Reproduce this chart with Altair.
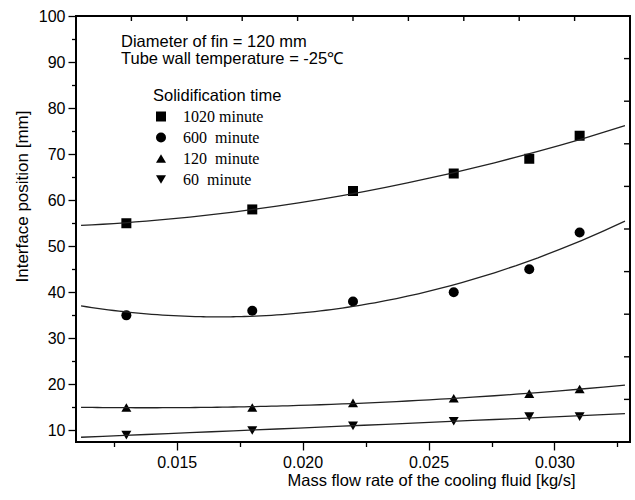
import altair as alt
import pandas as pd

NB = "\u00a0"
# Data
flow = [0.013, 0.018, 0.022, 0.026, 0.029, 0.031]
series_names = ["1020" + NB + "minute", "600" + NB * 2 + "minute",
                "120" + NB * 2 + "minute", NB + "60" + NB * 2 + "minute"]
t1020 = [55.0, 58.0, 62.0, 65.8, 69.0, 74.0]
t600 = [35.0, 36.0, 38.0, 40.0, 45.0, 53.0]
t120 = [15.0, 15.0, 16.0, 17.0, 18.0, 19.0]
t60 = [9.0, 10.0, 11.0, 12.0, 13.0, 13.0]
shapes = ["square", "circle", "triangle-up", "triangle-down"]

x_domain = [0.011, 0.033]
y_domain = [7.5, 100]
x_ticks = [0.0125, 0.015, 0.0175, 0.02, 0.0225, 0.025, 0.0275, 0.03, 0.0325]
y_ticks = [10, 15, 20, 25, 30, 35, 40, 45, 50, 55, 60, 65, 70, 75, 80, 85, 90, 95, 100]
top_ticks = [0.0132, 0.0154, 0.0176, 0.0198, 0.022, 0.0242, 0.0264, 0.0286, 0.0308]
right_ticks = [16.75, 26.0, 35.25, 44.5, 53.75, 63.0, 72.25, 81.5, 90.75]

rows = []
for name, vals in zip(series_names, [t1020, t600, t120, t60]):
    for xv, yv in zip(flow, vals):
        rows.append({"x": xv, "y": yv, "series": name})
df = pd.DataFrame(rows)

FONT = "Liberation Sans"

xs = alt.Scale(domain=x_domain, nice=False, zero=False)
ys = alt.Scale(domain=y_domain, nice=False, zero=False)

points = alt.Chart(df).mark_point(filled=True, color="black", size=100, opacity=1).encode(
    x=alt.X("x:Q", scale=xs, title="Mass flow rate of the cooling fluid [kg/s]",
            axis=alt.Axis(values=x_ticks, format=".3f", grid=False, domain=False,
                          labelExpr="round(datum.value*10000) % 50 === 0 ? format(datum.value, '.3f') : ''",
                          tickSize={"condition": {"test": "round(datum.value*10000) % 50 === 0", "value": 8}, "value": 4.5},
                          tickColor="black", tickWidth=1.3, labelColor="black",
                          labelFont=FONT, labelFontSize=16, labelPadding=4,
                          titleFont=FONT, titleFontSize=16.5, titleFontWeight="normal",
                          titleColor="black", titleX=355, titleY=38, titleAlign="center",
                          titleBaseline="middle")),
    y=alt.Y("y:Q", scale=ys, title="Interface position [mm]",
            axis=alt.Axis(values=y_ticks, grid=False, domain=False,
                          labelExpr="datum.value % 10 === 0 ? datum.value : ''",
                          tickSize={"condition": {"test": "datum.value % 10 === 0", "value": 8}, "value": 4.5},
                          tickColor="black", tickWidth=1.3, labelColor="black",
                          labelFont=FONT, labelFontSize=16, labelPadding=3,
                          titleFont=FONT, titleFontSize=17, titleFontWeight="normal",
                          titleColor="black", titleX=-54, titleY=180, titleAlign="center",
                          titleBaseline="middle", titleAngle=270)),
    shape=alt.Shape("series:N", scale=alt.Scale(domain=series_names, range=shapes),
                    legend=alt.Legend(title="Solidification time", orient="none",
                                      legendX=77, legendY=72, padding=0,
                                      titleFont=FONT, titleFontSize=16.5, titleFontWeight="normal",
                                      titleColor="black", titlePadding=4,
                                      labelFont="Liberation Serif", labelFontSize=16,
                                      labelColor="black", labelOffset=14, rowPadding=5,
                                      symbolSize=100, symbolFillColor="black",
                                      symbolStrokeColor="black", symbolStrokeWidth=0)),
)

lines = alt.Chart(df).transform_regression(
    "x", "y", groupby=["series"], method="poly", order=2, extent=[0.0112, 0.0328]
).mark_line(color="#222222", strokeWidth=1.3).encode(
    x=alt.X("x:Q", scale=xs, axis=None),
    y=alt.Y("y:Q", scale=ys, axis=None),
    detail="series:N",
)

# inward ticks on the top and right frame edges
top_tick_marks = alt.Chart(pd.DataFrame({"v": top_ticks})).mark_rule(
    color="black", strokeWidth=1.4
).encode(x=alt.X("v:Q", scale=xs, axis=None), y=alt.value(0), y2=alt.value(5))

right_tick_marks = alt.Chart(pd.DataFrame({"v": right_ticks})).mark_rule(
    color="black", strokeWidth=1.4
).encode(y=alt.Y("v:Q", scale=ys, axis=None), x=alt.value(548), x2=alt.value(554))

def note(text, ypix):
    return alt.Chart(pd.DataFrame({"t": [text]})).mark_text(
        align="left", baseline="middle", font=FONT, fontSize=16.5, color="black"
    ).encode(x=alt.value(45), y=alt.value(ypix), text="t:N")

ann1 = note("Diameter of fin = 120 mm", 26)
ann2 = note("Tube wall temperature = -25\u2103", 43)

chart = alt.layer(points, lines, top_tick_marks, right_tick_marks, ann1, ann2).resolve_axis(
    x="independent", y="independent"
).properties(
    width=554, height=426,
    autosize=alt.AutoSizeParams(type="none"),
    padding={"left": 76, "top": 16, "right": 5, "bottom": 58},
).configure_view(stroke="black", strokeWidth=2)

chart.save("out.html", embed_options={"renderer": "svg", "actions": False})
